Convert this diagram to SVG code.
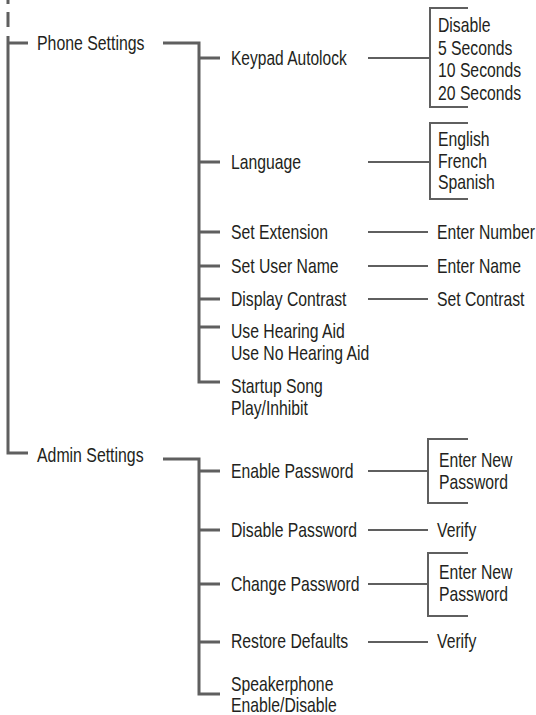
<svg xmlns="http://www.w3.org/2000/svg" width="536" height="715" viewBox="0 0 536 715">
<style>
text{font-family:"Liberation Sans",Arial,sans-serif;font-size:21px;fill:#231f20}
.thick{fill:none;stroke:#5f5f5f;stroke-width:3}
.thin{fill:none;stroke:#5f5f5f;stroke-width:2}
</style>
<rect width="536" height="715" fill="#ffffff"/>
<g id="connectors">
<path class="thick" d="M8 -11V4M8 12V27M8 36V453H28M8 43H28"/>
<path class="thick" d="M163 43H199V382H220M199 58H220M199 162H220M199 232H220M199 266H220M199 299H220M199 327H220"/>
<path class="thick" d="M163 459H199V694H220M199 471H220M199 530H220M199 584H220M199 642H220"/>
<path class="thin" d="M368 58H430M468 8H430V107H468"/>
<path class="thin" d="M368 162H430M468 123H430V199H468"/>
<path class="thin" d="M368 232H428M368 266H428M368 299H428"/>
<path class="thin" d="M368 471H428M468 439H428V503H468"/>
<path class="thin" d="M368 530H428"/>
<path class="thin" d="M368 584H428M468 553H428V616H468"/>
<path class="thin" d="M368 642H428"/>
</g>
<g id="phone-settings"><text transform="translate(37 49.5) scale(.755 1)">Phone Settings</text></g>
<g id="admin-settings"><text transform="translate(37 462) scale(.755 1)">Admin Settings</text></g>
<g id="keypad-autolock"><text transform="translate(231 64.5) scale(.74 1)">Keypad Autolock</text></g>
<g id="autolock-options"><text transform="translate(438 32) scale(.75 1)">Disable</text><text transform="translate(438 54.5) scale(.75 1)">5 Seconds</text><text transform="translate(438 77) scale(.75 1)">10 Seconds</text><text transform="translate(438 99.5) scale(.75 1)">20 Seconds</text></g>
<g id="language"><text transform="translate(231 168.5) scale(.75 1)">Language</text></g>
<g id="language-options"><text transform="translate(438 146) scale(.75 1)">English</text><text transform="translate(438 167.5) scale(.75 1)">French</text><text transform="translate(438 188.5) scale(.75 1)">Spanish</text></g>
<g id="set-extension"><text transform="translate(231 239) scale(.75 1)">Set Extension</text></g>
<g id="enter-number"><text transform="translate(437 239) scale(.75 1)">Enter Number</text></g>
<g id="set-user-name"><text transform="translate(231 273) scale(.75 1)">Set User Name</text></g>
<g id="enter-name"><text transform="translate(437 273) scale(.75 1)">Enter Name</text></g>
<g id="display-contrast"><text transform="translate(231 306) scale(.75 1)">Display Contrast</text></g>
<g id="set-contrast"><text transform="translate(437 306) scale(.75 1)">Set Contrast</text></g>
<g id="hearing-aid"><text transform="translate(231 337.5) scale(.75 1)">Use Hearing Aid</text><text transform="translate(231 360) scale(.75 1)">Use No Hearing Aid</text></g>
<g id="startup-song"><text transform="translate(231 393) scale(.75 1)">Startup Song</text><text transform="translate(231 415) scale(.75 1)">Play/Inhibit</text></g>
<g id="enable-password"><text transform="translate(231 478) scale(.75 1)">Enable Password</text></g>
<g id="enable-new-password"><text transform="translate(439 467) scale(.75 1)">Enter New</text><text transform="translate(439 489) scale(.75 1)">Password</text></g>
<g id="disable-password"><text transform="translate(231 537) scale(.75 1)">Disable Password</text></g>
<g id="disable-verify"><text transform="translate(437 537) scale(.75 1)">Verify</text></g>
<g id="change-password"><text transform="translate(231 591) scale(.75 1)">Change Password</text></g>
<g id="change-new-password"><text transform="translate(439 579) scale(.75 1)">Enter New</text><text transform="translate(439 601) scale(.75 1)">Password</text></g>
<g id="restore-defaults"><text transform="translate(231 648) scale(.75 1)">Restore Defaults</text></g>
<g id="restore-verify"><text transform="translate(437 648) scale(.75 1)">Verify</text></g>
<g id="speakerphone"><text transform="translate(231 691) scale(.75 1)">Speakerphone</text><text transform="translate(231 711.5) scale(.75 1)">Enable/Disable</text></g>
</svg>
